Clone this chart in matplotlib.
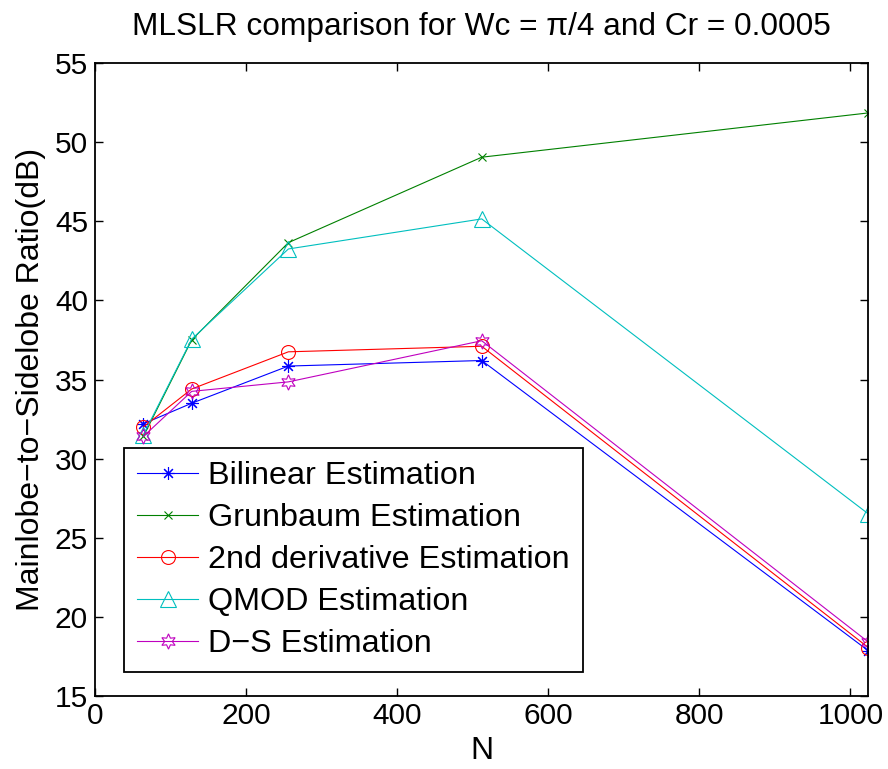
import numpy as np
import matplotlib
matplotlib.use("Agg")
import matplotlib.pyplot as plt

plt.rcParams["font.family"] = ["Liberation Sans", "DejaVu Sans"]

# filter length N and measured mainlobe-to-sidelobe ratios (dB)
n_values = [64, 128, 256, 512, 1024]
bilinear = [32.2, 33.5, 35.85, 36.2, 17.85]
grunbaum = [31.4, 37.5, 43.65, 49.05, 51.85]
second_deriv = [32.0, 34.4, 36.75, 37.1, 18.05]
qmod = [31.5, 37.55, 43.25, 45.15, 26.5]
ds = [31.4, 34.25, 34.85, 37.45, 18.4]

labels = [
    "Bilinear Estimation",
    "Grunbaum Estimation",
    "2nd derivative Estimation",
    "QMOD Estimation",
    "D\u2212S Estimation",
]
colors = [(0, 0, 1), (0, 0.5, 0), (1, 0, 0), (0, 0.75, 0.75), (0.75, 0, 0.75)]
markers = [(8, 2, 0), "x", "o", "^", (6, 1, 0)]
sizes = [9, 6, 10, 11, 11]

fig = plt.figure(figsize=(8.88, 7.69), dpi=100)
ax = fig.add_axes([0.107, 0.095, 0.871, 0.823])

series = [bilinear, grunbaum, second_deriv, qmod, ds]
for ys, lab, c, m, ms in zip(series, labels, colors, markers, sizes):
    ax.plot(n_values, ys, color=c, marker=m, markersize=ms, linewidth=0.8,
            markerfacecolor="none", markeredgecolor=c, markeredgewidth=0.8,
            label=lab)

ax.set_xlim(0, 1024)
ax.set_ylim(15, 55)
ax.set_xticks(np.arange(0, 1001, 200))
ax.set_yticks(np.arange(15, 56, 5))
ax.tick_params(direction="in", top=True, right=True, labelsize=21.5, length=6,
               width=1)
ax.tick_params(axis="y", pad=5)
ax.tick_params(axis="x", pad=4)
for sp in ax.spines.values():
    sp.set_linewidth(1.3)

ax.set_xlabel("N", fontsize=23, labelpad=5)
ax.set_ylabel("Mainlobe\u2212to\u2212Sidelobe Ratio(dB)", fontsize=23, labelpad=6)
ax.set_title("MLSLR comparison for Wc = \u03c0/4 and Cr = 0.0005", fontsize=22.8, pad=20)

leg = ax.legend(loc="lower left", bbox_to_anchor=(0.0375, 0.038),
                borderaxespad=0, fontsize=23.3, fancybox=False, framealpha=1,
                edgecolor="black", handlelength=1.9, handletextpad=0.3,
                labelspacing=0.37, borderpad=0.4, numpoints=1)
leg.get_frame().set_linewidth(1.3)

fig.savefig("out.png", dpi=100)
